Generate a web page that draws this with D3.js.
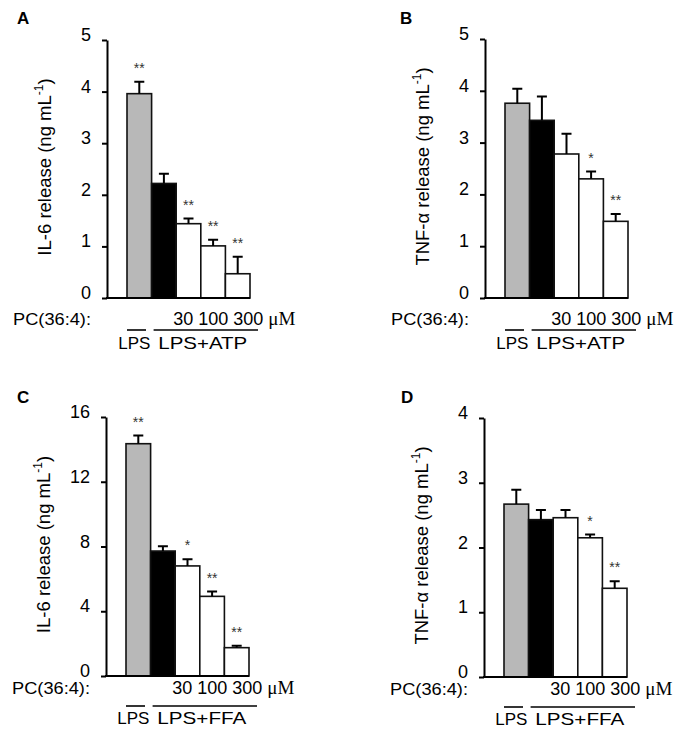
<!DOCTYPE html>
<html lang="en">
<head>
<meta charset="UTF-8">
<title>PC(36:4) cytokine release</title>
<style>
html, body { margin: 0; padding: 0; background: #fff; }
svg text { font-family: 'Liberation Sans', Arial, sans-serif; fill: #000; }
.axis path, .axis line { stroke: #000; stroke-width: 2; }
.axis text { font-size: 18px; }
.bar { stroke: #111; stroke-width: 1.6; }
.err { stroke: #000; stroke-width: 2; fill: none; }
.star { font-size: 14px; fill: #333; }
</style>
</head>
<body>
<svg width="681" height="732"></svg>
<script src="https://cdnjs.cloudflare.com/ajax/libs/d3/7.0.4/d3.min.js"></script>
<script>
// groups: LPS, LPS+stim, +30, +100, +300 uM PC(36:4)
const groups = ['LPS', 'stim', '30', '100', '300'];
const barFills = ['#b8b8b8', '#000', '#fff', '#fff', '#fff'];

const il6Atp = [3.96, 2.22, 1.44, 1.01, 0.47];
const il6AtpErr = [0.23, 0.19, 0.10, 0.12, 0.33];
const il6AtpSig = ['**', '', '**', '**', '**'];

const tnfAtp = [3.76, 3.43, 2.78, 2.30, 1.48];
const tnfAtpErr = [0.28, 0.46, 0.39, 0.14, 0.14];
const tnfAtpSig = ['', '', '', '*', '**'];

const il6Ffa = [14.35, 7.72, 6.80, 4.92, 1.75];
const il6FfaErr = [0.50, 0.30, 0.42, 0.30, 0.12];
const il6FfaSig = ['**', '', '*', '**', '**'];

const tnfFfa = [2.67, 2.43, 2.46, 2.15, 1.37];
const tnfFfaErr = [0.22, 0.15, 0.12, 0.05, 0.11];
const tnfFfaSig = ['', '', '', '*', '**'];

const ticks5 = [0, 1, 2, 3, 4, 5];
const ticks16 = [0, 4, 8, 12, 16];
const ticks4 = [0, 1, 2, 3, 4];

var svg = d3.select('svg');

const panels = [
  {letter: 'A', lx: 17, ly: 24, ax: 107, top: 40, bottom: 298, max: 5, ticks: ticks5,
   vals: il6Atp, err: il6AtpErr, sig: il6AtpSig, cyto: 'IL-6', stim: 'LPS+ATP',
   pcDy: 27, lineDy: 32, grpDy: 51},
  {letter: 'B', lx: 400, ly: 24, ax: 485, top: 39, bottom: 298, max: 5, ticks: ticks5,
   vals: tnfAtp, err: tnfAtpErr, sig: tnfAtpSig, cyto: 'TNF-\u03b1', stim: 'LPS+ATP',
   pcDy: 27, lineDy: 32, grpDy: 51},
  {letter: 'C', lx: 17, ly: 403, ax: 106, top: 417, bottom: 676, max: 16, ticks: ticks16,
   vals: il6Ffa, err: il6FfaErr, sig: il6FfaSig, cyto: 'IL-6', stim: 'LPS+FFA',
   pcDy: 18, lineDy: 30, grpDy: 48},
  {letter: 'D', lx: 401, ly: 403, ax: 484, top: 418, bottom: 677, max: 4, ticks: ticks4,
   vals: tnfFfa, err: tnfFfaErr, sig: tnfFfaSig, cyto: 'TNF-\u03b1', stim: 'LPS+FFA',
   pcDy: 18, lineDy: 30, grpDy: 48}
];

panels.forEach(function (p) {
  var x = d3.scaleBand().domain(groups).range([p.ax + 20, p.ax + 143]).padding(0);
  var y = d3.scaleLinear().domain([0, p.max]).range([p.bottom, p.top]);
  var g = svg.append('g');

  g.append('text')
    .attr('x', p.lx).attr('y', p.ly)
    .attr('font-size', 17).attr('font-weight', 'bold')
    .text(p.letter);

  // bars
  g.selectAll('rect.bar').data(p.vals).enter().append('rect')
    .attr('class', 'bar')
    .attr('x', (d, i) => x(groups[i]))
    .attr('width', x.bandwidth())
    .attr('y', d => y(d))
    .attr('height', d => y(0) - y(d))
    .attr('fill', (d, i) => barFills[i]);

  // upper error bars
  g.selectAll('path.err').data(p.vals).enter().append('path')
    .attr('class', 'err')
    .attr('d', function (d, i) {
      var cx = x(groups[i]) + x.bandwidth() / 2;
      var yt = y(d + p.err[i]);
      return 'M' + cx + ',' + y(d) + 'V' + yt + 'M' + (cx - 5) + ',' + yt + 'H' + (cx + 5);
    });

  g.selectAll('text.star').data(p.sig).enter().append('text')
    .attr('class', 'star')
    .attr('text-anchor', 'middle')
    .attr('x', (d, i) => x(groups[i]) + x.bandwidth() / 2)
    .attr('y', (d, i) => y(p.vals[i] + p.err[i]) - 9)
    .text(d => d);

  // axes
  g.append('g').attr('class', 'axis')
    .attr('transform', 'translate(' + p.ax + ',0)')
    .call(d3.axisLeft(y).tickValues(p.ticks).tickFormat(d3.format('d'))
      .tickSize(5).tickSizeOuter(0).tickPadding(11))
    .selectAll('text').attr('dy', '0.03em');

  g.append('line').attr('class', 'axis')
    .attr('x1', p.ax - 1).attr('x2', x.range()[1])
    .attr('y1', y(0)).attr('y2', y(0))
    .attr('stroke', '#000').attr('stroke-width', 2);

  // y label
  var lab = g.append('text')
    .attr('transform', 'translate(' + (p.ax - 56) + ',' + ((p.top + p.bottom) / 2 - 2) + ') rotate(-90)')
    .attr('text-anchor', 'middle')
    .attr('font-size', 18.5);
  lab.append('tspan').text(p.cyto + ' release (ng mL');
  lab.append('tspan').attr('font-size', 12).attr('dy', -8).text('-1');
  lab.append('tspan').attr('dy', 8).text(')');

  // concentration row
  var base = y(0);
  g.append('text')
    .attr('x', p.ax - 16).attr('y', base + p.pcDy)
    .attr('text-anchor', 'end').attr('font-size', 17)
    .attr('textLength', 78).attr('lengthAdjust', 'spacingAndGlyphs')
    .text('PC(36:4):');
  var conc = g.append('text')
    .attr('x', x('30') - 3).attr('y', base + p.pcDy)
    .attr('font-size', 18);
  conc.append('tspan').text('30 100 300 ');
  conc.append('tspan').attr('font-family', "'Liberation Serif', 'Times New Roman', serif")
    .attr('font-size', 19).text('\u03bcM');

  // group brackets
  g.append('line')
    .attr('x1', x('LPS')).attr('x2', x('LPS') + 19)
    .attr('y1', base + p.lineDy).attr('y2', base + p.lineDy)
    .attr('stroke', '#000').attr('stroke-width', 1.6);
  g.append('line')
    .attr('x1', x('stim') + 2).attr('x2', x.range()[1] + 8)
    .attr('y1', base + p.lineDy).attr('y2', base + p.lineDy)
    .attr('stroke', '#000').attr('stroke-width', 1.6);
  g.append('text')
    .attr('x', x('LPS') + x.bandwidth() / 2 - 5).attr('y', base + p.grpDy)
    .attr('text-anchor', 'middle').attr('font-size', 17)
    .text('LPS');
  g.append('text')
    .attr('x', (x('stim') + x.range()[1]) / 2 + 2).attr('y', base + p.grpDy)
    .attr('text-anchor', 'middle').attr('font-size', 17)
    .attr('textLength', 89).attr('lengthAdjust', 'spacingAndGlyphs')
    .text(p.stim);
});
</script>
</body>
</html>
